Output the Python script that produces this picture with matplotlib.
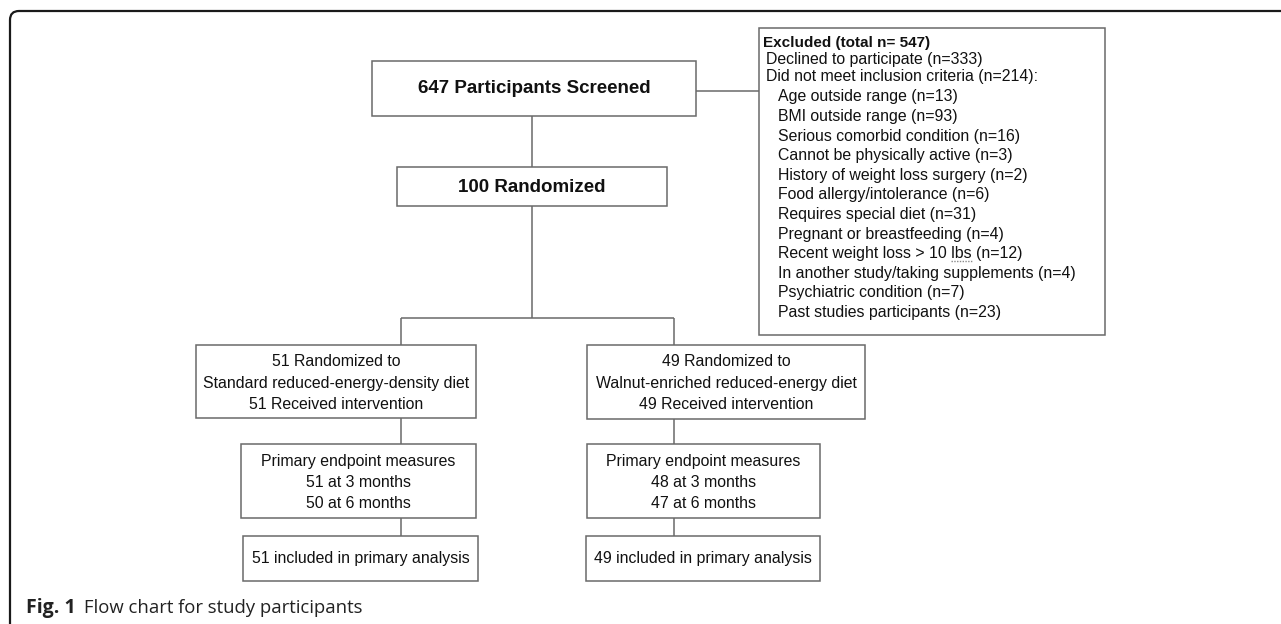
import matplotlib
matplotlib.use("Agg")
import matplotlib.pyplot as plt
from matplotlib.patches import Rectangle
from matplotlib.path import Path
from matplotlib.patches import PathPatch

# ---- content ----
screened_text = "647 Participants Screened"
randomized_text = "100 Randomized"
excluded_title = "Excluded (total n= 547)"
excluded_main = ["Declined to participate (n=333)",
                 "Did not meet inclusion criteria (n=214):"]
excluded_sub = ["Age outside range (n=13)",
                "BMI outside range (n=93)",
                "Serious comorbid condition (n=16)",
                "Cannot be physically active (n=3)",
                "History of weight loss surgery (n=2)",
                "Food allergy/intolerance (n=6)",
                "Requires special diet (n=31)",
                "Pregnant or breastfeeding (n=4)",
                "Recent weight loss > 10 lbs (n=12)",
                "In another study/taking supplements (n=4)",
                "Psychiatric condition (n=7)",
                "Past studies participants (n=23)"]
arm_left = ["51 Randomized to", "Standard reduced-energy-density diet", "51 Received intervention"]
arm_right = ["49 Randomized to", "Walnut-enriched reduced-energy diet", "49 Received intervention"]
primary_left = ["Primary endpoint measures", "51 at 3 months", "50 at 6 months"]
primary_right = ["Primary endpoint measures", "48 at 3 months", "47 at 6 months"]
final_left = "51 included in primary analysis"
final_right = "49 included in primary analysis"
caption_bold = "Fig. 1"
caption_text = "Flow chart for study participants"

W, H = 1281, 624
fig = plt.figure(figsize=(W / 100, H / 100), dpi=100)
ax = fig.add_axes([0, 0, 1, 1])
ax.set_xlim(0, W)
ax.set_ylim(H, 0)
ax.axis("off")

BOX_EC = "#6a6a6a"
LINE_C = "#6a6a6a"
TXT = "#111111"
FONT = "Liberation Sans"
FS = 11.4


def box(x0, y0, x1, y1):
    ax.add_patch(Rectangle((x0, y0), x1 - x0, y1 - y0, fill=False,
                           ec=BOX_EC, lw=1.1))


def line(xs, ys):
    ax.plot(xs, ys, color=LINE_C, lw=1.1, solid_capstyle="butt")


def ctext(x, y, s, bold=False, size=FS):
    return ax.text(x, y, s, ha="center", va="center", fontsize=size, color=TXT,
                   family=FONT, fontweight="bold" if bold else "normal")


# outer frame (rounded top-left corner)
r = 9
verts = [(10, H + 5), (10, 11 + r), (10, 11), (10 + r, 11), (W + 5, 11)]
codes = [Path.MOVETO, Path.LINETO, Path.CURVE3, Path.CURVE3, Path.LINETO]
ax.add_patch(PathPatch(Path(verts, codes), fill=False, ec="#1a1a1a", lw=1.6))

# screened
box(372, 61, 696, 116)
ctext(534, 88.5, screened_text, bold=True, size=13.5)
# randomized
box(397, 167, 667, 206)
ctext(532, 188, randomized_text, bold=True, size=13.5)
line([532, 532], [116, 167])
# to exclusion box
line([696, 759], [91, 91])
box(759, 28, 1105, 335)
ax.text(763, 43, excluded_title, ha="left", va="center", fontsize=11,
        color=TXT, family=FONT, fontweight="bold")
main_y = [59.5, 77]
for yy, s in zip(main_y, excluded_main):
    ax.text(766, yy, s, ha="left", va="center",
            fontsize=FS, color=TXT, family=FONT)
step = 19.6
sub_texts = []
for i, s in enumerate(excluded_sub):
    sub_texts.append(ax.text(778, 97 + step * i, s, ha="left", va="center",
                             fontsize=FS, color=TXT, family=FONT))

# dotted spell-check underline under "lbs"
fig.canvas.draw()
rend = fig.canvas.get_renderer()
inv = ax.transData.inverted()
idx = [i for i, s in enumerate(excluded_sub) if "lbs" in s][0]
full = excluded_sub[idx]
pre = full[:full.index("lbs")]
tmp = ax.text(778, 0, pre, fontsize=FS, family=FONT)
w_pre = tmp.get_window_extent(rend).width
tmp.remove()
tmp = ax.text(778, 0, "lbs", fontsize=FS, family=FONT)
w_lbs = tmp.get_window_extent(rend).width
tmp.remove()
y_ul = 97 + step * idx + 7.5
ax.plot([778 + w_pre, 778 + w_pre + w_lbs], [y_ul, y_ul], color="#8a8a8a",
        lw=1.0, ls=(0, (1, 1)))

# branch
line([532, 532], [206, 318])
line([401, 674], [318, 318])
line([401, 401], [318, 345])
line([674, 674], [318, 345])

# arm boxes
box(196, 345, 476, 418)
box(587, 345, 865, 419)
for i, s in enumerate(arm_left):
    ctext(336, 361.5 + 21.7 * i, s)
for i, s in enumerate(arm_right):
    ctext(726, 361.5 + 21.7 * i, s)

line([401, 401], [418, 444])
line([674, 674], [419, 444])

# primary boxes
box(241, 444, 476, 518)
box(587, 444, 820, 518)
for i, s in enumerate(primary_left):
    ctext(358.5, 461.5 + 21.2 * i, s)
for i, s in enumerate(primary_right):
    ctext(703.5, 461.5 + 21.2 * i, s)

line([401, 401], [518, 536])
line([674, 674], [518, 536])

# final boxes
box(243, 536, 478, 581)
box(586, 536, 820, 581)
ctext(360.5, 559, final_left)
ctext(703, 559, final_right)

# caption
t = ax.text(26, 608, caption_bold, ha="left", va="center", fontsize=14,
            color="#222222", family="Open Sans", fontweight="bold")
fig.canvas.draw()
bb = t.get_window_extent()
x_end = inv.transform((bb.x1, bb.y0))[0]
ax.text(x_end + 8, 608, caption_text, ha="left", va="center", fontsize=13.3,
        color="#222222", family="Open Sans")

fig.savefig("out.png", dpi=100, facecolor="white")
